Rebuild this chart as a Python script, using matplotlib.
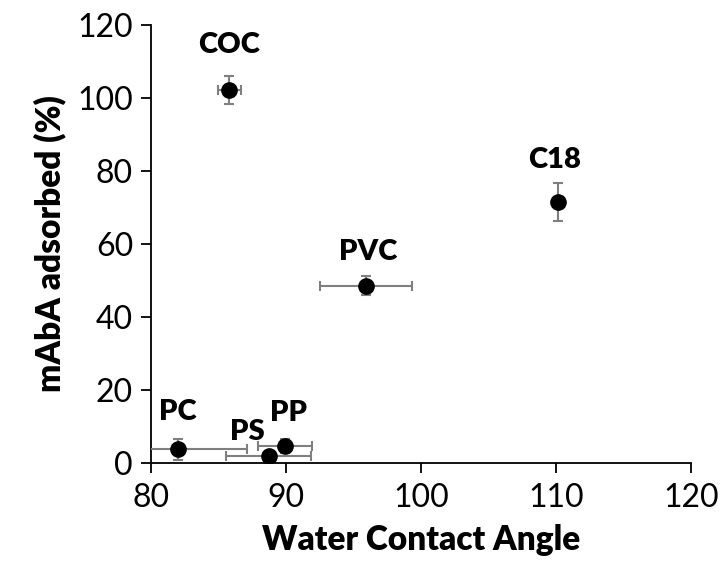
import matplotlib
matplotlib.use("Agg")
import matplotlib.pyplot as plt

plt.rcParams['font.family'] = ['Lato', 'DejaVu Sans']

materials = ["COC", "C18", "PVC", "PC", "PS", "PP"]
contact_angle = [85.8, 110.1, 95.9, 82.0, 88.7, 89.9]
angle_err = [0.85, 0.0, 3.4, 5.1, 3.15, 2.0]
adsorbed = [102.2, 71.5, 48.5, 3.6, 1.8, 4.5]
adsorbed_err = [3.9, 5.3, 2.6, 2.9, 0.8, 2.0]

# label offsets in points from each marker
label_off = [(0, 32), (-2, 30), (2, 24), (0, 27), (-15, 17), (3, 24)]

fig = plt.figure(figsize=(7.23, 5.88), dpi=100)
ax = fig.add_axes([0.209, 0.2134, 0.747, 0.744])

ax.errorbar(contact_angle, adsorbed, xerr=angle_err, yerr=adsorbed_err,
            fmt='o', color='black', markersize=11, ecolor='#7f7f7f',
            elinewidth=1.5, capsize=3.5, capthick=1.5, zorder=3)

for name, x, y, off in zip(materials, contact_angle, adsorbed, label_off):
    ax.annotate(name, (x, y), xytext=off, textcoords='offset points',
                ha='center', va='center', fontsize=21, fontweight='heavy')

ax.set_xlim(80, 120)
ax.set_ylim(0, 120)
ax.set_xticks([80, 90, 100, 110, 120])
ax.set_yticks(range(0, 121, 20))
ax.tick_params(labelsize=23, length=7, width=1.3, color='black')
ax.tick_params(axis='x', pad=8)
ax.tick_params(axis='y', pad=6)
for s in ['top', 'right']:
    ax.spines[s].set_visible(False)
for s in ['left', 'bottom']:
    ax.spines[s].set_linewidth(1.3)
ax.set_xlabel("Water Contact Angle", fontsize=24, fontweight='heavy', labelpad=8)
ax.set_ylabel("mAbA adsorbed (%)", fontsize=24, fontweight='heavy', labelpad=8)

fig.savefig("out.png", dpi=100)
